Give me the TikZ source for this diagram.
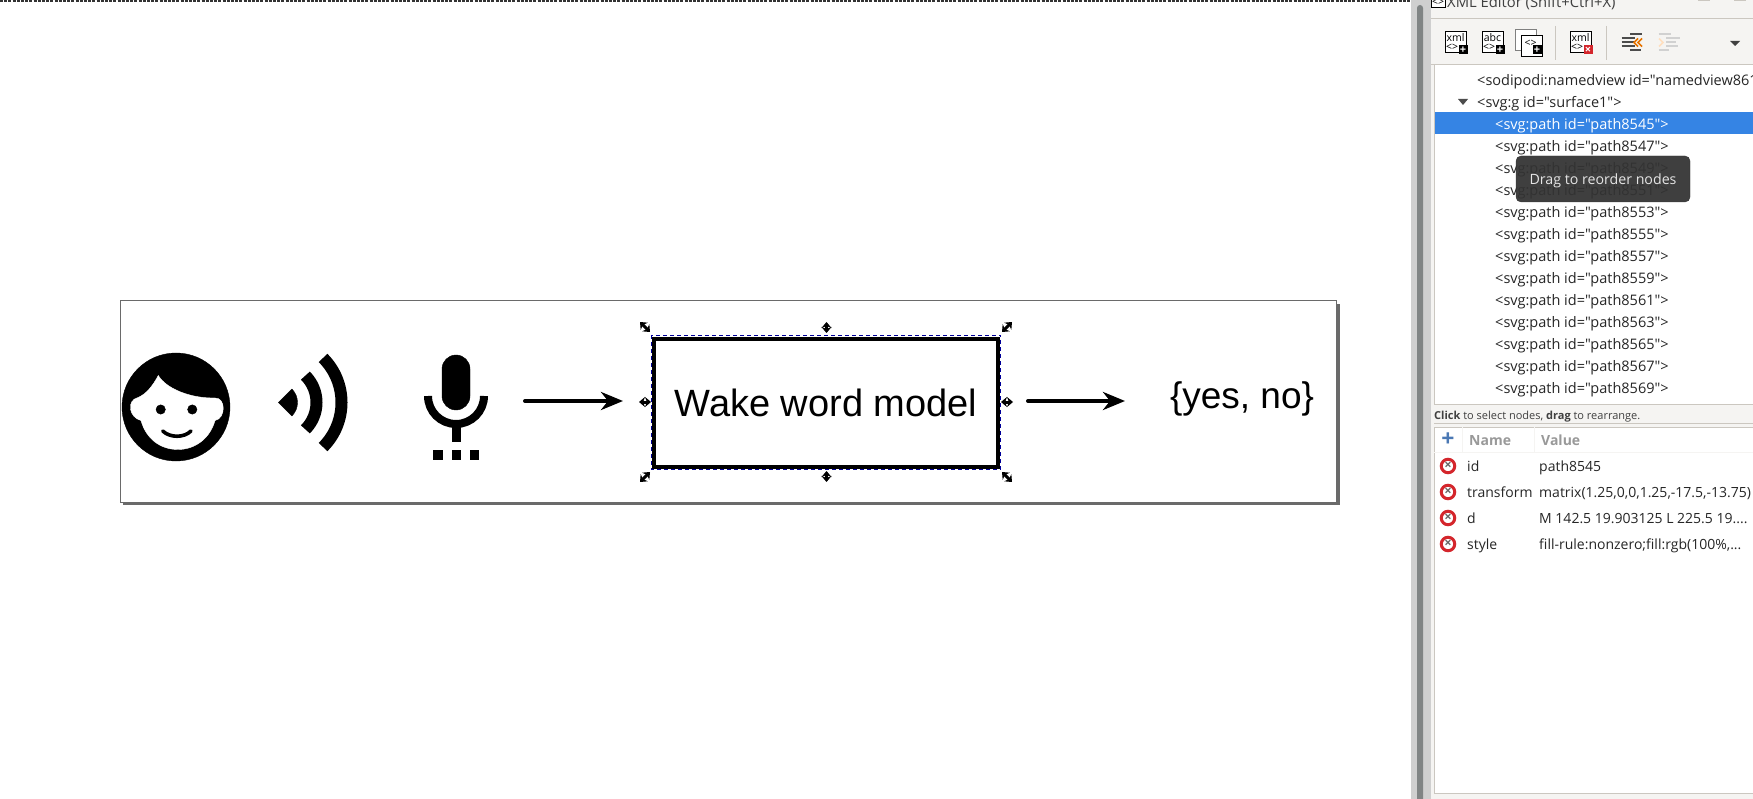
\documentclass[tikz,border=0pt]{standalone}
\usepackage{fontspec}
\usepackage{xcolor}
\usepackage{tikz}
\usetikzlibrary{arrows.meta}
\newfontfamily\uifont{Open Sans}
\newfontfamily\modelfont{Liberation Sans}
\definecolor{panelbg}{HTML}{F5F4F2}
\definecolor{panelline}{HTML}{CBC7C0}
\definecolor{rowblue}{HTML}{3584E4}
\definecolor{pagegray}{HTML}{6A6A6A}
\definecolor{thumbgray}{HTML}{808484}
\definecolor{trackgray}{HTML}{CFCFCF}
\definecolor{tipgray}{HTML}{333333}
\definecolor{delred}{HTML}{D4262C}
\definecolor{plusblue}{HTML}{4A78B4}
\tikzset{
    modelbox/.style={draw=black, line width=4.4pt, minimum width=344pt, minimum height=128pt, inner sep=0pt, outer sep=0pt, font=\modelfont\fontsize{38}{42}\selectfont},
    resulttext/.style={inner sep=0pt, outer sep=0pt, font=\modelfont\fontsize{37}{42}\selectfont},
    flowarrow/.style={-{Stealth[length=22pt,width=18pt,inset=7pt]}, line width=4pt, line cap=round},
    selhandle/.style={{Stealth[length=6pt,width=10pt]}-{Stealth[length=6pt,width=10pt]}, line width=3pt},
    rowtext/.style={anchor=base west, inner sep=0pt, text=black!85, font=\uifont\fontsize{14.5}{16}\selectfont},
    attrtext/.style={rowtext, font=\uifont\fontsize{14}{16}\selectfont},
    headtext/.style={rowtext, text=black!40, font=\uifont\bfseries\fontsize{14}{16}\selectfont},
    iconbox/.style={draw=black, fill=white, line width=1pt, minimum size=21pt, inner sep=0pt},
    icontext/.style={inner sep=0pt, font=\uifont\fontsize{10.5}{10}\selectfont},
    badge/.style={fill=black, text=white, minimum size=9pt, inner sep=0pt, font=\uifont\bfseries\fontsize{11}{9}\selectfont},
    delbadge/.style={circle, draw=delred, fill=white, line width=3pt, minimum size=13.5pt, inner sep=0pt, text=black!60, font=\uifont\bfseries\fontsize{13}{10}\selectfont},
    bar/.style={line width=2pt},
}
\begin{document}
\begin{tikzpicture}[x=1pt,y=-1pt]
                \useasboundingbox (0,0) rectangle (1753,799);
                \clip (0,0) rectangle (1753,799);
                \fill[white] (0,0) rectangle (1753,799);
                \draw[black!80, line width=2pt, dash pattern=on 3pt off 1.2pt] (0,1) -- (1410,1);
                \fill[pagegray] (123,304) rectangle (1340,505);
                \filldraw[white, draw=pagegray, line width=1pt] (120.5,300.5) rectangle (1336,502);
                \filldraw[black] (176,407) circle (54);
                \filldraw[white] (158.3,375.5) .. controls (166,388.5) and (190,398.5) .. (215,398)
                    .. controls (226,397.5) and (226,418.5) .. (215,420.5)
                    .. controls (210,438.5) and (195,449.5) .. (178,449.5)
                    .. controls (160,449.5) and (146,438.5) .. (141,420.5)
                    .. controls (129,417.5) and (126,400.5) .. (138,397.5)
                    .. controls (146,394.5) and (153,385.5) .. (158.3,375.5) -- cycle;
                \filldraw[black] (160.7,409.5) circle (4.7);
                \filldraw[black] (192.3,409.5) circle (4.7);
                \draw[black, line width=3.6pt, line cap=round] (162.7,431) .. controls (170,438) and (184,438) .. (191,431);
                \coordinate (speaker) at (278.5,402.5);
                \filldraw[black] (speaker) -- ++(-45:19) arc (-45:45:19) -- cycle;
                \draw[black, line width=12pt] (speaker) ++(-45:38) arc (-45:45:38);
                \draw[black, line width=12pt] (speaker) ++(-45:63) arc (-45:45:63);
                \filldraw[black, rounded corners=14pt] (442,355) rectangle (470,410);
                \draw[black, line width=8pt] (484,396) arc (0:180:28);
                \fill[black] (452,426) rectangle (461,442);
                \fill[black] (433.3,450) rectangle (442.7,460);
                \fill[black] (451.7,450) rectangle (460.7,460);
                \fill[black] (470,450) rectangle (479,460);
                \node[modelbox] (wake) at (826,403) {Wake word model};
                \node[resulttext] (result) at (1242,399) {\{yes, no\}};
                \coordinate (mic) at (525,401);
                \draw[flowarrow, shorten >=31pt] (mic) -- (mic -| wake.west);
                \draw[flowarrow, shorten <=30pt, shorten >=45pt] (mic -| wake.east) -- (mic -| result.west);
                \draw[blue!60!black, line width=.8pt, dash pattern=on 4pt off 3pt] (651.5,335) rectangle (1000.5,469.5);
                \draw[selhandle] (640,322) -- (650,332);
                \draw[selhandle] (1002,332) -- (1012,322);
                \draw[selhandle] (640,482) -- (650,472);
                \draw[selhandle] (1002,472) -- (1012,482);
                \draw[selhandle] (826.5,322) -- (826.5,333);
                \draw[selhandle] (826.5,471) -- (826.5,482);
                \draw[selhandle] (639,402) -- (651,402);
                \draw[selhandle] (1001,402) -- (1013,402);
                \fill[trackgray] (1411,0) rectangle (1431,799);
                \fill[thumbgray, rounded corners=3pt] (1417,5) rectangle (1423,830);
                \fill[panelbg] (1431,0) rectangle (1753,799);
                \draw[panelline, line width=1pt] (1431,18.5) -- (1753,18.5);
                \draw[panelline, line width=1pt] (1698,0) -- (1698,1) -- (1709,1) -- (1709,0);
                \draw[panelline, line width=1pt] (1734,0) -- (1734,1) -- (1745,1) -- (1745,0);
                \filldraw[white, draw=black, line width=1pt] (1431,-4) rectangle (1445,8);
                \node[icontext] (titlemark) at (1438,2) {<>};
                \node[anchor=base west, inner sep=0pt, text=black!75, font=\uifont\fontsize{14.8}{17}\selectfont] (title) at (1447,7.5) {XML Editor (Shift+Ctrl+X)};
                \node[iconbox] (addxml) at (1455.5,42.5) {};
                \node[icontext] (addxmlname) at (1455.5,37.5) {xml};
                \node[icontext] (addxmlmark) at (1452,47.5) {<>};
                \node[badge] (addxmlplus) at (1463,50) {+};
                \node[iconbox] (addtext) at (1492.5,42.5) {};
                \node[icontext] (addtextname) at (1492.5,37.5) {abc};
                \node[icontext] (addtextmark) at (1489,47.5) {<>};
                \node[badge] (addtextplus) at (1500,50) {+};
                \node[iconbox, draw=black!50] (dupback) at (1526,40) {};
                \node[iconbox] (dupfront) at (1532,46) {};
                \node[icontext] (dupmark) at (1530.5,43.5) {<>};
                \node[badge] (dupplus) at (1537,50) {+};
                \node[iconbox] (delxml) at (1580.5,42.5) {};
                \node[icontext] (delxmlname) at (1580.5,37.5) {xml};
                \node[icontext] (delxmlmark) at (1577,47.5) {<>};
                \node[badge, fill=delred] (delxmlcross) at (1588,50) {×};
                \draw[panelline, line width=1pt] (1555,26) -- (1555,60);
                \draw[panelline, line width=1pt] (1606,26) -- (1606,60);
                \draw[bar, black!70] (1630,34.5) -- (1642,34.5);
                \draw[bar, black!70] (1621.5,38.5) -- (1635,38.5);
                \draw[bar, black!70] (1621.5,42.5) -- (1634,42.5);
                \draw[bar, black!70] (1621.5,46.5) -- (1635,46.5);
                \draw[bar, black!70] (1630,50.5) -- (1641,50.5);
                \draw[orange!90!black, line width=1.6pt] (1642,38.5) -- (1638,42.5) -- (1642,46.5);
                \draw[orange!90!black, line width=1.6pt] (1638,38.5) -- (1634,42.5) -- (1638,46.5);
                \draw[bar, black!18] (1658.5,34.5) -- (1670.5,34.5);
                \draw[bar, black!18] (1666,38.5) -- (1680,38.5);
                \draw[bar, black!18] (1666,42.5) -- (1676,42.5);
                \draw[bar, black!18] (1666,46.5) -- (1678,46.5);
                \draw[bar, black!18] (1658.5,50.5) -- (1669,50.5);
                \draw[orange!25, line width=1.6pt] (1659,38.5) -- (1663,42.5) -- (1659,46.5);
                \fill[black!75] (1730,41) -- (1740,41) -- (1735,46) -- cycle;
                \draw[panelline, line width=1pt] (1431,64.5) -- (1753,64.5);
                \filldraw[white, draw=panelline, line width=1pt] (1434,65) rectangle (1760,404);
                \fill[rowblue] (1435,112) rectangle (1753,134);
                \fill[black!70] (1458,99) -- (1468,99) -- (1463,105) -- cycle;
                \node[rowtext] (namedview) at (1477,85.5) {<sodipodi:namedview id="namedview861};
                \node[rowtext] (surface) at (1477,107.5) {<svg:g id="surface1">};
                \node[rowtext, text=white] (pathA) at (1495,129.5) {<svg:path id="path8545">};
                \node[rowtext] (pathB) at (1495,151.5) {<svg:path id="path8547">};
                \node[rowtext] (pathC) at (1495,173.5) {<svg:path id="path8549">};
                \node[rowtext] (pathD) at (1495,195.5) {<svg:path id="path8551">};
                \node[rowtext] (pathE) at (1495,217.5) {<svg:path id="path8553">};
                \node[rowtext] (pathF) at (1495,239.5) {<svg:path id="path8555">};
                \node[rowtext] (pathG) at (1495,261.5) {<svg:path id="path8557">};
                \node[rowtext] (pathH) at (1495,283.5) {<svg:path id="path8559">};
                \node[rowtext] (pathI) at (1495,305.5) {<svg:path id="path8561">};
                \node[rowtext] (pathJ) at (1495,327.5) {<svg:path id="path8563">};
                \node[rowtext] (pathK) at (1495,349.5) {<svg:path id="path8565">};
                \node[rowtext] (pathL) at (1495,371.5) {<svg:path id="path8567">};
                \node[rowtext] (pathM) at (1495,393.5) {<svg:path id="path8569">};
                \filldraw[tipgray, opacity=.94, rounded corners=5pt] (1516,156) rectangle (1690,202);
                \node[inner sep=0pt, text=white!90!black, font=\uifont\fontsize{14.2}{16}\selectfont] (tooltip) at (1603,180.5) {Drag to reorder nodes};
                \node[anchor=base west, inner sep=0pt, text=black!75, font=\uifont\fontsize{11}{13}\selectfont] (hint) at (1434,419) {\textbf{Click} to select nodes, \textbf{drag} to rearrange.};
                \draw[panelline, line width=1pt] (1434,423) -- (1753,423);
                \filldraw[white, draw=panelline, line width=1pt] (1434,427) rectangle (1760,793);
                \draw[panelbg, line width=1pt] (1434,452) -- (1753,452);
                \draw[panelbg, line width=1pt] (1462,427) -- (1462,452);
                \draw[panelbg, line width=1pt] (1534,427) -- (1534,452);
                \node[inner sep=0pt, text=plusblue, font=\uifont\bfseries\fontsize{23}{20}\selectfont] (addattr) at (1448,440) {+};
                \node[headtext] (namehead) at (1469,445.5) {Name};
                \node[headtext] (valuehead) at (1541,445.5) {Value};
                \node[delbadge] (delid) at (1448,466) {×};
                \node[delbadge] (deltransform) at (1448,492) {×};
                \node[delbadge] (deld) at (1448,518) {×};
                \node[delbadge] (delstyle) at (1448,544) {×};
                \node[attrtext] (idname) at (1467,471.5) {id};
                \node[attrtext] (transformname) at (1467,497.5) {transform};
                \node[attrtext] (dname) at (1467,523.5) {d};
                \node[attrtext] (stylename) at (1467,549.5) {style};
                \node[attrtext] (idvalue) at (1539,471.5) {path8545};
                \node[attrtext] (transformvalue) at (1539,497.5) {matrix(1.25,0,0,1.25,-17.5,-13.75)};
                \node[attrtext] (dvalue) at (1539,523.5) {M 142.5 19.903125 L 225.5 19....};
                \node[attrtext] (stylevalue) at (1539,549.5) {fill-rule:nonzero;fill:rgb(100\%,...};
            \end{tikzpicture}
\end{document}
